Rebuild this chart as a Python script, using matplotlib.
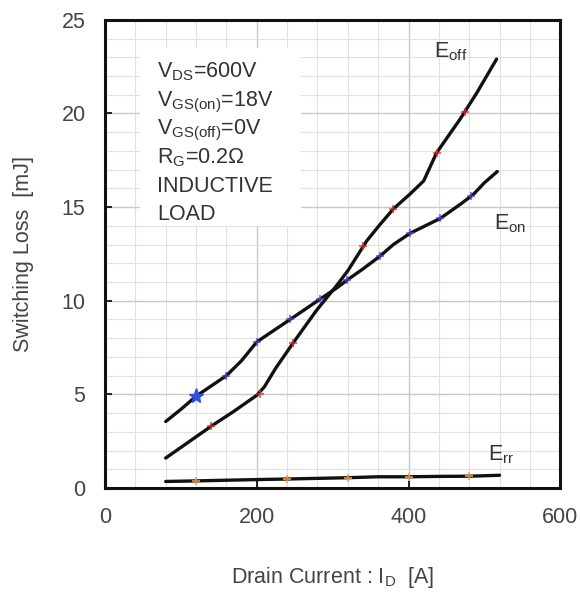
import matplotlib
matplotlib.use('Agg')
import matplotlib.pyplot as plt
from matplotlib.patches import Rectangle
from matplotlib.ticker import MultipleLocator

plt.rcParams['font.family'] = ['Liberation Sans', 'DejaVu Sans']
plt.rcParams['mathtext.fontset'] = 'custom'
plt.rcParams['mathtext.rm'] = 'Liberation Sans'
plt.rcParams['mathtext.it'] = 'Liberation Sans'

# curves: drain current [A] -> loss [mJ]
eoff_x = [80, 110, 140, 170, 200, 210, 225, 248, 279, 306, 320, 345, 362,
          380, 402, 420, 437, 468, 490, 516]
eoff_y = [1.6, 2.45, 3.3, 4.1, 4.95, 5.4, 6.4, 7.75, 9.5, 10.85, 11.6, 13.2,
          14.05, 14.9, 15.7, 16.4, 17.9, 19.7, 21.1, 22.9]

eon_x = [80, 100, 120, 160, 180, 200, 244, 284, 306, 319, 340, 363, 380,
         402, 442, 470, 486, 500, 517]
eon_y = [3.55, 4.2, 4.9, 6.0, 6.8, 7.8, 9.0, 10.1, 10.7, 11.1, 11.7, 12.4,
         13.0, 13.6, 14.4, 15.2, 15.7, 16.3, 16.9]

err_x = [80, 120, 200, 240, 320, 360, 400, 440, 480, 520]
err_y = [0.35, 0.38, 0.45, 0.48, 0.55, 0.6, 0.6, 0.62, 0.63, 0.68]

# faint measured points on the curves
eoff_mx = [140, 204, 248, 340, 380, 437, 475]
eoff_my = [3.3, 5.0, 7.75, 12.9, 14.9, 17.9, 20.1]
eon_mx = [160, 200, 244, 284, 319, 363, 402, 442, 483]
eon_my = [6.0, 7.8, 9.0, 10.1, 11.1, 12.4, 13.6, 14.4, 15.6]
err_mx = [120, 240, 320, 400, 480]
err_my = [0.38, 0.48, 0.55, 0.6, 0.63]

conditions = [r'V$_{\mathrm{DS}}$=600V',
              r'V$_{\mathrm{GS(on)}}$=18V',
              r'V$_{\mathrm{GS(off)}}$=0V',
              r'R$_{\mathrm{G}}$=0.2$\Omega$',
              'INDUCTIVE',
              'LOAD']

fig = plt.figure(figsize=(5.8, 6.01), dpi=100)
ax = fig.add_axes([0.181, 0.188, 0.785, 0.779])

ax.set_xlim(0, 600)
ax.set_ylim(0, 25)
ax.xaxis.set_major_locator(MultipleLocator(200))
ax.xaxis.set_minor_locator(MultipleLocator(40))
ax.yaxis.set_major_locator(MultipleLocator(5))
ax.yaxis.set_minor_locator(MultipleLocator(1))

ax.grid(which='minor', color='#e0e0e0', lw=0.8, zorder=0)
ax.grid(which='major', color='#c8c8c8', lw=1.0, zorder=0)
ax.set_axisbelow(True)

ax.add_patch(Rectangle((46, 14.0), 212, 9.5, facecolor='white',
                       edgecolor='none', zorder=1))

for xs, ys in [(eoff_x, eoff_y), (eon_x, eon_y), (err_x, err_y)]:
    ax.plot(xs, ys, color='#111111', lw=2.4, zorder=3,
            solid_joinstyle='round', solid_capstyle='round')

ax.plot(eoff_mx, eoff_my, ls='none', marker='+', ms=6, mew=1.5,
        color='#e03030', alpha=0.7, zorder=4)
ax.plot(eon_mx, eon_my, ls='none', marker='+', ms=6, mew=1.5,
        color='#4a4ae0', alpha=0.7, zorder=4)
ax.plot([120], [4.9], ls='none', marker='*', ms=11, color='#3050e0', zorder=4)
ax.plot(err_mx, err_my, ls='none', marker='+', ms=6, mew=1.5,
        color='#f0a050', alpha=0.8, zorder=4)

for i, line in enumerate(conditions):
    ax.text(69, 21.9 - i * 1.52, line, fontsize=15.5, color='#333333',
            va='baseline', ha='left', zorder=5)

ax.text(433, 23.0, r'E$_{\mathrm{off}}$', fontsize=15.5, color='#333333', va='baseline')
ax.text(512, 13.8, r'E$_{\mathrm{on}}$', fontsize=15.5, color='#333333', va='baseline')
ax.text(505, 1.5, r'E$_{\mathrm{rr}}$', fontsize=15.5, color='#333333', va='baseline')

for s in ax.spines.values():
    s.set_linewidth(2.2)
    s.set_color('#111111')

ax.tick_params(which='major', direction='in', length=5, width=1.2,
               labelsize=15.5, labelcolor='#444444', pad=14)
ax.tick_params(which='minor', length=0)

ax.set_xlabel(r'Drain Current : I$_{\mathrm{D}}$  [A]', fontsize=15.5,
              color='#444444', labelpad=26)
ax.set_ylabel('Switching Loss  [mJ]', fontsize=15.5, color='#444444', labelpad=20)

plt.savefig('out.png', dpi=100)
